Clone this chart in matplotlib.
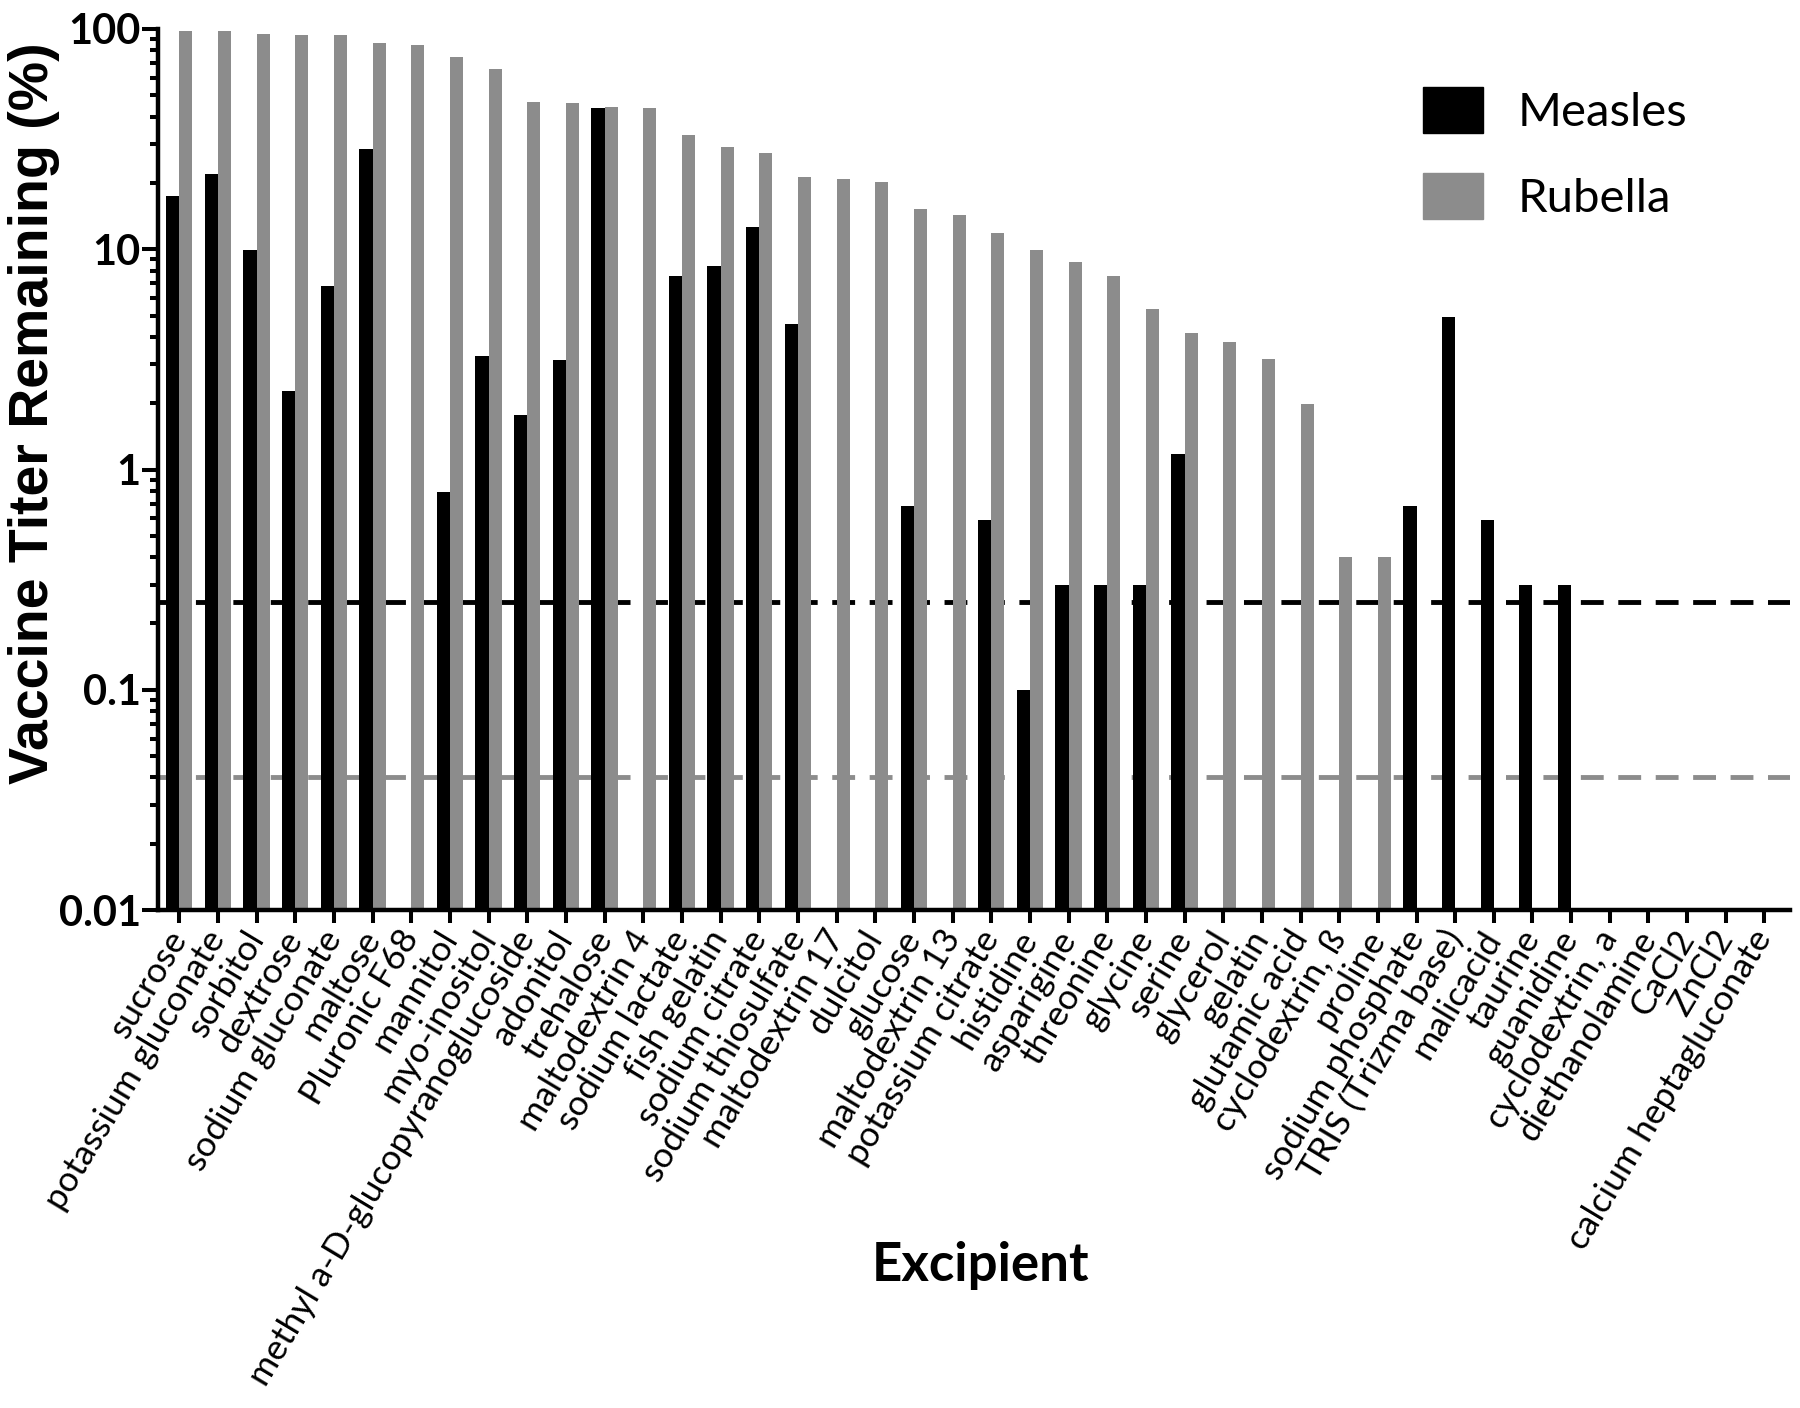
import numpy as np
import matplotlib.pyplot as plt
from matplotlib.patches import Patch
from matplotlib.ticker import LogLocator, NullFormatter, FixedLocator, FixedFormatter

# excipients on the x axis, in plotted order
excipients = [
    "sucrose", "potassium gluconate", "sorbitol", "dextrose", "sodium gluconate",
    "maltose", "Pluronic F68", "mannitol", "myo-inositol",
    "methyl a-D-glucopyranoglucoside", "adonitol", "trehalose", "maltodextrin 4",
    "sodium lactate", "fish gelatin", "sodium citrate", "sodium thiosulfate",
    "maltodextrin 17", "dulcitol", "glucose", "maltodextrin 13", "potassium citrate",
    "histidine", "asparigine", "threonine", "glycine", "serine", "glycerol",
    "gelatin", "glutamic acid", "cyclodextrin, ß", "proline", "sodium phosphate",
    "TRIS (Trizma base)", "malicacid", "taurine", "guanidine", "cyclodextrin, a",
    "diethanolamine", "CaCl2", "ZnCl2", "calcium heptagluconate",
]

# % titer remaining (None = nothing detected)
measles = [17.4, 21.9, 9.9, 2.27, 6.8, 28.6, None, 0.79, 3.26, 1.77, 3.15, 43.9,
           None, 7.55, 8.4, 12.6, 4.57, None, None, 0.68, None, 0.59, 0.1, 0.3,
           0.3, 0.3, 1.17, None, None, None, None, None, 0.68, 4.9, 0.59, 0.3,
           0.3, None, None, None, None, None]
rubella = [97.6, 98.0, 95.0, 94.0, 93.6, 86.5, 85.0, 74.5, 65.5, 46.6, 46.0, 44.4,
           43.8, 33.0, 29.0, 27.3, 21.2, 20.9, 20.3, 15.2, 14.3, 11.9, 9.96, 8.77,
           7.55, 5.33, 4.16, 3.78, 3.18, 1.99, 0.4, 0.4, None, None, None, None,
           None, None, None, None, None, None]

measles_lod = 0.25
rubella_lod = 0.04

BLACK = "#000000"
GRAY = "#8c8c8c"
base = 0.01
FONT = ["Lato", "DejaVu Sans"]

fig = plt.figure(figsize=(18, 14.08), dpi=100)
ax = fig.add_axes([158 / 1800, 1 - 910 / 1408, (1790 - 158) / 1800, (910 - 29) / 1408])

x = np.arange(len(excipients))
w = 0.34


def draw_bars(vals, offset, color):
    idx = [i for i, v in enumerate(vals) if v is not None]
    h = [vals[i] - base for i in idx]
    ax.bar(x[idx] + offset, h, width=w, bottom=base, color=color, zorder=2, linewidth=0)


draw_bars(measles, -w / 2, BLACK)
draw_bars(rubella, w / 2, GRAY)

# detection limits, drawn behind the bars
ax.axhline(measles_lod, color=BLACK, lw=3.5, ls=(0, (4.7, 3.0)), zorder=1)
ax.axhline(rubella_lod, color=GRAY, lw=3.5, ls=(0, (4.7, 3.0)), zorder=1)

ax.set_yscale("log")
ax.set_ylim(0.01, 100)
ax.set_xlim(-0.55, 41.66)

ax.yaxis.set_major_locator(FixedLocator([0.01, 0.1, 1, 10, 100]))
ax.yaxis.set_major_formatter(FixedFormatter(["0.01", "0.1", "1", "10", "100"]))
ax.yaxis.set_minor_locator(LogLocator(base=10, subs=np.arange(2, 10)))
ax.yaxis.set_minor_formatter(NullFormatter())

for s in ["top", "right"]:
    ax.spines[s].set_visible(False)
for s in ["left", "bottom"]:
    ax.spines[s].set_linewidth(3.2)

ax.tick_params(axis="y", which="major", length=11.5, width=2.9, pad=1)
ax.tick_params(axis="y", which="minor", length=6, width=2.9)
ax.tick_params(axis="x", which="major", length=9.5, width=2.9, pad=7)

for lbl in ax.get_yticklabels():
    lbl.set_fontfamily(FONT)
    lbl.set_fontweight("bold")
    lbl.set_fontsize(30)

ax.set_xticks(x)
ax.set_xticklabels(excipients, rotation=59, ha="right", va="center",
                   rotation_mode="anchor", fontsize=25.5, family=FONT)

fig.text(34 / 1800, 1 - 413 / 1408, "Vaccine Titer Remaining (%)", rotation=90,
         ha="center", va="center", fontsize=40, fontweight="bold",
         family=["Liberation Sans", "DejaVu Sans"])
fig.text(981 / 1800, 1 - 1266 / 1408, "Excipient", ha="center", va="center",
         fontsize=38, fontweight="bold", family=FONT)

handles = [Patch(color=BLACK, label="Measles"), Patch(color=GRAY, label="Rubella")]
ax.legend(handles=handles, loc="upper left", bbox_to_anchor=(1423 / 1800, 1 - 87 / 1408),
          bbox_transform=fig.transFigure, frameon=False, borderpad=0, borderaxespad=0,
          handlelength=1.28, handleheight=1.13, handletextpad=0.72,
          labelspacing=0.82, prop={"family": FONT, "size": 34})

fig.savefig("out.png", dpi=100)
